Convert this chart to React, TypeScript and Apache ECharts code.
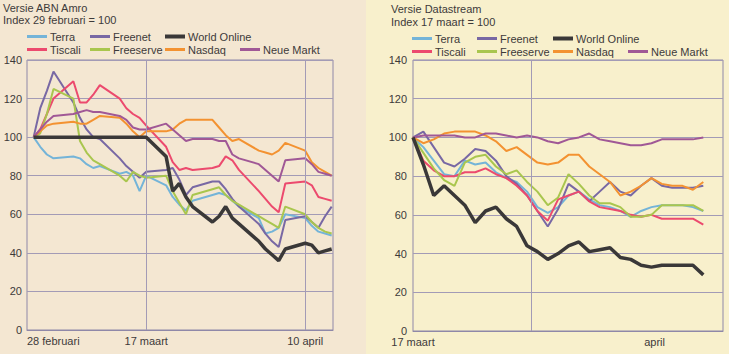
import React, { useEffect, useRef } from "react";
import * as echarts from "echarts";

// ---------- data ----------
const seriesNames = ["Terra", "Freenet", "World Online", "Tiscali", "Freeserve", "Nasdaq", "Neue Markt"];
const seriesColors = ["#74b4d8", "#7868a4", "#3a3838", "#ec4a6e", "#a9c64e", "#f39231", "#a05896"];

// left chart (ABN Amro), x = calendar days after 28 februari
const leftDays = [1, 2, 3, 4, 7, 8, 9, 10, 11, 14, 15, 16, 17, 18, 21, 22, 23, 24, 25, 28, 29, 30, 31, 32, 35, 36, 37, 38, 39, 42, 43, 44, 45, 46];
const leftTerra = [100, 95, 91, 89, 90, 89, 86, 84, 85, 81, 82, 80, 72, 80, 75, 69, 65, 62, 67, 70, 71, 70, 67, 64, 58, 50, 51, 53, 60, 58, 54, 51, 50, 49];
const leftFreenet = [100, 115, 124, 134, 118, 110, 104, 100, 99, 89, 85, 82, 79, 82, 83, 84, 78, 70, 74, 77, 77, 73, 68, 64, 55, 50, 46, 43, 57, 59, 56, 53, 59, 64];
const leftWorldOnline = [100, 100, 100, 100, 100, 100, 100, 100, 100, 100, 100, 100, 100, 100, 90, 72, 76, 69, 64, 56, 59, 64, 58, 55, 46, 42, 39, 36, 42, 45, 44, 40, 41, 42];
const leftTiscali = [100, 104, 112, 120, 129, 118, 118, 122, 127, 120, 115, 112, 110, 106, 95, 87, 83, 84, 83, 84, 85, 90, 88, 83, 72, 68, 64, 61, 76, 77, 75, 69, 68, 67];
const leftFreeserve = [100, 102, 112, 125, 120, 98, 92, 88, 86, 80, 77, 82, 80, 79, 80, 72, 66, 60, 70, 73, 74, 70, 67, 65, 59, 57, 55, 53, 64, 60, 56, 53, 51, 50];
const leftNasdaq = [100, 103, 106, 107, 108, 107, 107, 109, 111, 110, 107, 103, 100, 103, 103, 104, 107, 109, 109, 109, 105, 101, 98, 99, 93, 92, 91, 93, 97, 93, 87, 84, 82, 80];
const leftNeueMarkt = [100, 104, 108, 111, 112, 113, 114, 113, 113, 111, 109, 105, 104, 104, 107, 104, 101, 98, 99, 99, 98, 98, 91, 89, 86, 83, 80, 77, 88, 89, 86, 82, 81, 80];

// right chart (Datastream), x = trading days after 17 maart
const rightDays = [0, 1, 2, 3, 4, 5, 6, 7, 8, 9, 10, 11, 12, 13, 14, 15, 16, 17, 18, 19, 20, 21, 22, 23, 24, 25, 26, 27, 28];
const rightTerra = [100, 95, 88, 81, 80, 88, 86, 87, 82, 79, 77, 72, 64, 61, 64, 70, 72, 68, 65, 64, 62, 59, 62, 64, 65, 65, 65, 64, 62];
const rightFreenet = [100, 103, 95, 87, 85, 89, 94, 93, 88, 80, 76, 70, 62, 54, 63, 76, 72, 67, 72, 77, 72, 70, 75, 79, 75, 74, 74, 74, 75];
const rightWorldOnline = [100, 86, 70, 75, 70, 65, 56, 62, 64, 58, 54, 44, 41, 37, 40, 44, 46, 41, 42, 43, 38, 37, 34, 33, 34, 34, 34, 34, 29];
const rightTiscali = [100, 88, 83, 80, 80, 82, 82, 84, 81, 79, 75, 70, 62, 57, 68, 70, 72, 67, 64, 63, 62, 60, 59, 60, 58, 58, 58, 58, 55];
const rightFreeserve = [100, 92, 84, 78, 75, 87, 90, 91, 85, 81, 83, 77, 72, 65, 69, 81, 76, 70, 66, 66, 64, 59, 59, 60, 65, 65, 65, 65, 62];
const rightNasdaq = [100, 97, 99, 102, 103, 103, 103, 101, 98, 93, 95, 91, 87, 86, 87, 91, 91, 85, 81, 77, 70, 72, 75, 79, 76, 75, 75, 73, 77];
const rightNeueMarkt = [100, 101, 101, 101, 101, 100, 100, 102, 102, 101, 100, 101, 100, 98, 97, 99, 100, 102, 99, 98, 97, 96, 96, 97, 99, 99, 99, 99, 100];

const leftValues = [leftTerra, leftFreenet, leftWorldOnline, leftTiscali, leftFreeserve, leftNasdaq, leftNeueMarkt];
const rightValues = [rightTerra, rightFreenet, rightWorldOnline, rightTiscali, rightFreeserve, rightNasdaq, rightNeueMarkt];

const leftTickValues = [0, 18, 42];
const leftTickLabels = ["28 februari", "17 maart", "10 april"];
const leftVLines = [18, 42];
const rightTickValues = [0, 23.3];
const rightTickLabels = ["17 maart", "april"];
const rightVLines = [11.4];

const yTicks = [0, 20, 40, 60, 80, 100, 120, 140];

// ---------- layout / style ----------
const FONT = "Liberation Sans, Arial, sans-serif";
const TEXT = "#3d3a3a";
const GRIDC = "#a39bb6";

export default function App() {
  const ref = useRef<HTMLDivElement>(null);
  useEffect(() => {
    if (!ref.current) return;
    const chart = echarts.init(ref.current, undefined, { renderer: "svg" });

    const charts = [
      { days: leftDays, values: leftValues, ticks: leftTickValues, labels: leftTickLabels, vlines: leftVLines, max: 46.2 },
      { days: rightDays, values: rightValues, ticks: rightTickValues, labels: rightTickLabels, vlines: rightVLines, max: 29.9 },
    ];

    const series: any[] = [];
    charts.forEach((c, ci) => {
      seriesNames.forEach((name, si) => {
        const isWO = name === "World Online";
        series.push({
          type: "line",
          name,
          xAxisIndex: ci,
          yAxisIndex: ci,
          data: c.days.map((d, i) => [d, c.values[si][i]]),
          showSymbol: false,
          symbol: "none",
          z: isWO ? 5 : 3,
          lineStyle: { width: isWO ? 3.5 : 2, color: seriesColors[si] },
          itemStyle: { color: seriesColors[si] },
          markLine:
            si === 0
              ? {
                  silent: true,
                  symbol: "none",
                  label: { show: false },
                  lineStyle: { color: GRIDC, type: "solid", width: 1 },
                  data: c.vlines.map((v) => ({ xAxis: v })),
                }
              : undefined,
        });
      });
    });

    const legendLayout = [
      { x0: [27, 90, 165, 27, 90, 165, 240], tops: [31, 44] },
      { x0: [412, 477, 553, 412, 477, 553, 628], tops: [33, 46] },
    ];
    const rowOf = [0, 0, 0, 1, 1, 1, 1];
    const legendOrder = [0, 1, 2, 3, 4, 5, 6];
    const legends: any[] = [];
    legendLayout.forEach((L) => {
      legendOrder.forEach((si, k) => {
        legends.push({
          show: true,
          data: [seriesNames[si]],
          left: L.x0[k],
          top: L.tops[rowOf[k]],
          padding: 0,
          itemGap: 0,
          icon: "rect",
          itemWidth: 20,
          itemHeight: seriesNames[si] === "World Online" ? 4 : 3,
          selectedMode: false,
          textStyle: { fontSize: 11, color: TEXT, fontFamily: FONT, padding: [0, 0, 0, -2] },
        });
      });
    });

    const option: any = {
      animation: false,
      backgroundColor: "transparent",
      textStyle: { fontFamily: FONT },
      title: [
        { text: "Versie ABN Amro", left: 3, top: 2, padding: 0, textStyle: { fontSize: 11, fontWeight: "normal", color: TEXT, fontFamily: FONT } },
        { text: "Index 29 februari = 100", left: 3, top: 14, padding: 0, textStyle: { fontSize: 11, fontWeight: "normal", color: TEXT, fontFamily: FONT } },
        { text: "Versie Datastream", left: 391, top: 3, padding: 0, textStyle: { fontSize: 11, fontWeight: "normal", color: TEXT, fontFamily: FONT } },
        { text: "Index 17 maart = 100", left: 391, top: 16, padding: 0, textStyle: { fontSize: 11, fontWeight: "normal", color: TEXT, fontFamily: FONT } },
      ],
      legend: legends,
      grid: [
        { left: 27, right: 396, top: 60, bottom: 24, show: true, borderColor: "#8f88a8", borderWidth: 1, backgroundColor: "transparent" },
        { left: 413, right: 6, top: 60, bottom: 23, show: true, borderColor: "#8f88a8", borderWidth: 1, backgroundColor: "transparent" },
      ],
      xAxis: charts.map((c, ci) => ({
        type: "value",
        gridIndex: ci,
        min: 0,
        max: c.max,
        axisLine: { show: true, lineStyle: { color: "#8f88a8" } },
        axisTick: { show: false },
        splitLine: { show: false },
        axisLabel: {
          customValues: c.ticks,
          margin: 5,
          fontSize: 11,
          color: TEXT,
          fontFamily: FONT,
          alignMinLabel: ci === 0 ? "left" : "center",
          formatter: (v: number) => {
            const idx = c.ticks.findIndex((t) => Math.abs(t - v) < 1e-6);
            return idx >= 0 ? c.labels[idx] : "";
          },
        },
      })),
      yAxis: charts.map((c, ci) => ({
        type: "value",
        gridIndex: ci,
        min: 0,
        max: 140,
        interval: 20,
        axisLine: { show: false },
        axisTick: { show: false },
        splitLine: { show: true, lineStyle: { color: GRIDC, width: 1 } },
        axisLabel: {
          customValues: yTicks,
          margin: ci === 0 ? 5 : 6,
          fontSize: 11,
          color: TEXT,
          fontFamily: FONT,
        },
      })),
      series,
    };

    chart.setOption(option);
    return () => chart.dispose();
  }, []);

  return (
    <div
      ref={ref}
      style={{
        position: "absolute",
        left: 0,
        top: 0,
        width: 729,
        height: 354,
        background: "linear-gradient(to right, #f4e7d2 0px, #f4e7d2 366px, #f8f0cc 366px, #f8f0cc 729px)",
      }}
    />
  );
}
